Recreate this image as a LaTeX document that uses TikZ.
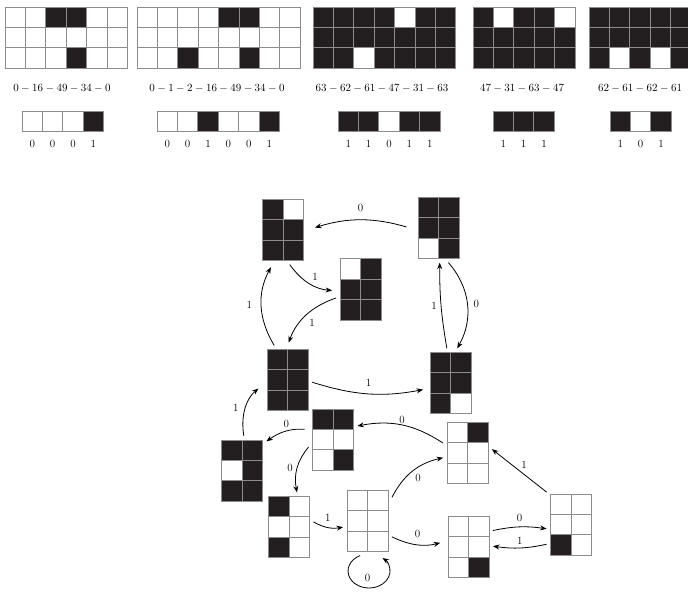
\documentclass[tikz,border=0pt]{standalone}
\usepackage{amsmath}
\usepackage{xcolor}
\usepackage{tikz}
\usetikzlibrary{arrows.meta,positioning}
\definecolor{cblack}{HTML}{231F20}
\definecolor{cline}{HTML}{8C8C8C}
\newcommand{\cellsz}{20.4}
% cells of a bit pattern, one {..} per row, top-left at the origin
\newcommand{\bitrows}[1]{%
  \foreach \cellrow [count=\rw] in {#1}{%
    \foreach \bit [count=\cl] in \cellrow{%
      \ifnum\bit=1 \def\cellcol{cblack}\else\def\cellcol{white}\fi
      \draw[cellbox,fill=\cellcol] ({(\cl-1)*\cellsz},{(\rw-1)*\cellsz}) rectangle ++(\cellsz,\cellsz);
    }}}
\newcommand{\bitlabels}[2]{%
  \foreach \bit [count=\cl] in {#2}
    \node[lbl] (#1-\cl) at ({(\cl-0.5)*\cellsz},33) {\bit};}
\newcommand{\statetile}[3]{%
  \node[tile] (#1) at (#2) {};
  \begin{scope}[shift={(#1.center)},shift={(-20.4,-30.6)}]\bitrows{#3}\end{scope}}

\begin{document}
\begin{tikzpicture}[x=1pt,y=-1pt,
  tile/.style={rectangle,minimum width=40.8pt,minimum height=61.2pt,inner sep=0pt,outer sep=4pt},
  cellbox/.style={draw=cline,line width=0.8pt},
  lbl/.style={font=\fontsize{11}{13}\selectfont,inner sep=1pt},
  ar/.style={-{Stealth[length=6.5pt,width=5pt]},line width=0.8pt,black}]
\useasboundingbox (0,0) rectangle (688,593);

% orbits on the strip
\begin{scope}[shift={(5,7)}]\bitrows{{0,0,1,1,0,0},{0,0,0,0,0,0},{0,0,0,1,0,0}}\end{scope}
\begin{scope}[shift={(137,7)}]\bitrows{{0,0,0,0,1,1,0,0},{0,0,0,0,0,0,0,0},{0,0,1,0,0,1,0,0}}\end{scope}
\begin{scope}[shift={(313,7)}]\bitrows{{1,1,1,1,0,1,1},{1,1,1,1,1,1,1},{1,1,0,1,1,1,1}}\end{scope}
\begin{scope}[shift={(473,7)}]\bitrows{{1,0,1,1,0},{1,1,1,1,1},{1,1,1,1,1}}\end{scope}
\begin{scope}[shift={(589,7)}]\bitrows{{1,1,1,1,1},{1,1,1,1,1},{1,0,1,0,1}}\end{scope}

\node[lbl] (seq1) at (62,88)  {$0-16-49-34-0$};
\node[lbl] (seq2) at (217,88) {$0-1-2-16-49-34-0$};
\node[lbl] (seq3) at (382,88) {$63-62-61-47-31-63$};
\node[lbl] (seq4) at (522,88) {$47-31-63-47$};
\node[lbl] (seq5) at (640,88) {$62-61-62-61$};

% edge words
\begin{scope}[shift={(22,111)}]\bitrows{{0,0,0,1}}\bitlabels{w1}{0,0,0,1}\end{scope}
\begin{scope}[shift={(157,111)}]\bitrows{{0,0,1,0,0,1}}\bitlabels{w2}{0,0,1,0,0,1}\end{scope}
\begin{scope}[shift={(338,111)}]\bitrows{{1,1,0,1,1}}\bitlabels{w3}{1,1,0,1,1}\end{scope}
\begin{scope}[shift={(493,111)}]\bitrows{{1,1,1}}\bitlabels{w4}{1,1,1}\end{scope}
\begin{scope}[shift={(610,111)}]\bitrows{{1,0,1}}\bitlabels{w5}{1,0,1}\end{scope}

% states of the graph
\statetile{s47}{283,230}{{1,0},{1,1},{1,1}}
\statetile{s61}{438.5,228}{{1,1},{1,1},{0,1}}
\statetile{s31}{360.5,289.5}{{0,1},{1,1},{1,1}}
\statetile{s63}{287.5,380}{{1,1},{1,1},{1,1}}
\statetile{s62}{450.5,383}{{1,1},{1,1},{1,0}}
\statetile{s49}{333,439.5}{{1,1},{0,0},{0,1}}
\statetile{s55}{242,470.5}{{1,1},{0,1},{1,1}}
\statetile{s34}{289,527}{{1,0},{0,0},{1,0}}
\statetile{s0}{367.5,521}{{0,0},{0,0},{0,0}}
\statetile{s16}{467.5,453}{{0,1},{0,0},{0,0}}
\statetile{s1}{468.5,547}{{0,0},{0,0},{0,1}}
\statetile{s2}{571,524.5}{{0,0},{0,0},{1,0}}

% transitions
\draw[ar,shorten <=8pt,shorten >=8pt] (s61.183) to[bend right=17] node[lbl,above=7pt]{0} (s47.east);
\draw[ar,shorten >=4pt] (s47.281) to[bend right=25] node[lbl,above right=2pt]{1} (s31.183);
\draw[ar,shorten >=3pt] (s31.199) to[bend right=25] node[lbl,below right=3pt]{1} (s63.north);
\draw[ar,shorten >=3pt] (s63.111) to[bend left=30] node[lbl,left=8pt]{1} (s47.253);
\draw[ar,shorten >=3pt] (s63.355) to[bend right=14] node[lbl,above=6pt]{1} (s62.194);
\draw[ar] (s62.96) to[bend left=5] node[lbl,left=3pt]{1} (s61.272);
\draw[ar] (s61.286) to[bend left=35] node[lbl,right=5pt]{0} (s62.79);
\draw[ar] (s16.158) to[bend right=22] node[lbl,above=0pt]{0} (s49.29);
\draw[ar,shorten <=4pt] (s49.158) to[bend right=20] node[lbl,above=2pt]{0} (s55.50);
\draw[ar,shorten >=6pt] (s55.87) to[bend left=30] node[lbl,left=6pt]{1} (s63.191);
\draw[ar] (s49.197) to[bend right=25] node[lbl,left=3pt]{0} (s34.77);
\draw[ar] (s34.12) to[bend right=20] node[lbl,above=5pt]{1} (s0.194);
\draw[ar] (s0.258) arc[start angle=115,end angle=410,x radius=21pt,y radius=17pt];
\node[lbl] (loop0) at ([yshift=-22pt]s0.south) {0};
\draw[ar] (s0.44) to[bend left=25] node[lbl,below right=2pt]{0} (s16.191);
\draw[ar,shorten >=4pt] (s0.327) to[bend right=20] node[lbl,above=5pt]{0} (s1.168);
\draw[ar] (s1.34) to[bend left=10] node[lbl,above=4pt]{0} (s2.190);
\draw[ar] (s2.219) to[bend left=10] node[lbl,above=2pt]{1} (s1.2);
\draw[ar] (s2.127)--(s16.9) node[lbl,midway,above right=1pt]{1};
\end{tikzpicture}
\end{document}
